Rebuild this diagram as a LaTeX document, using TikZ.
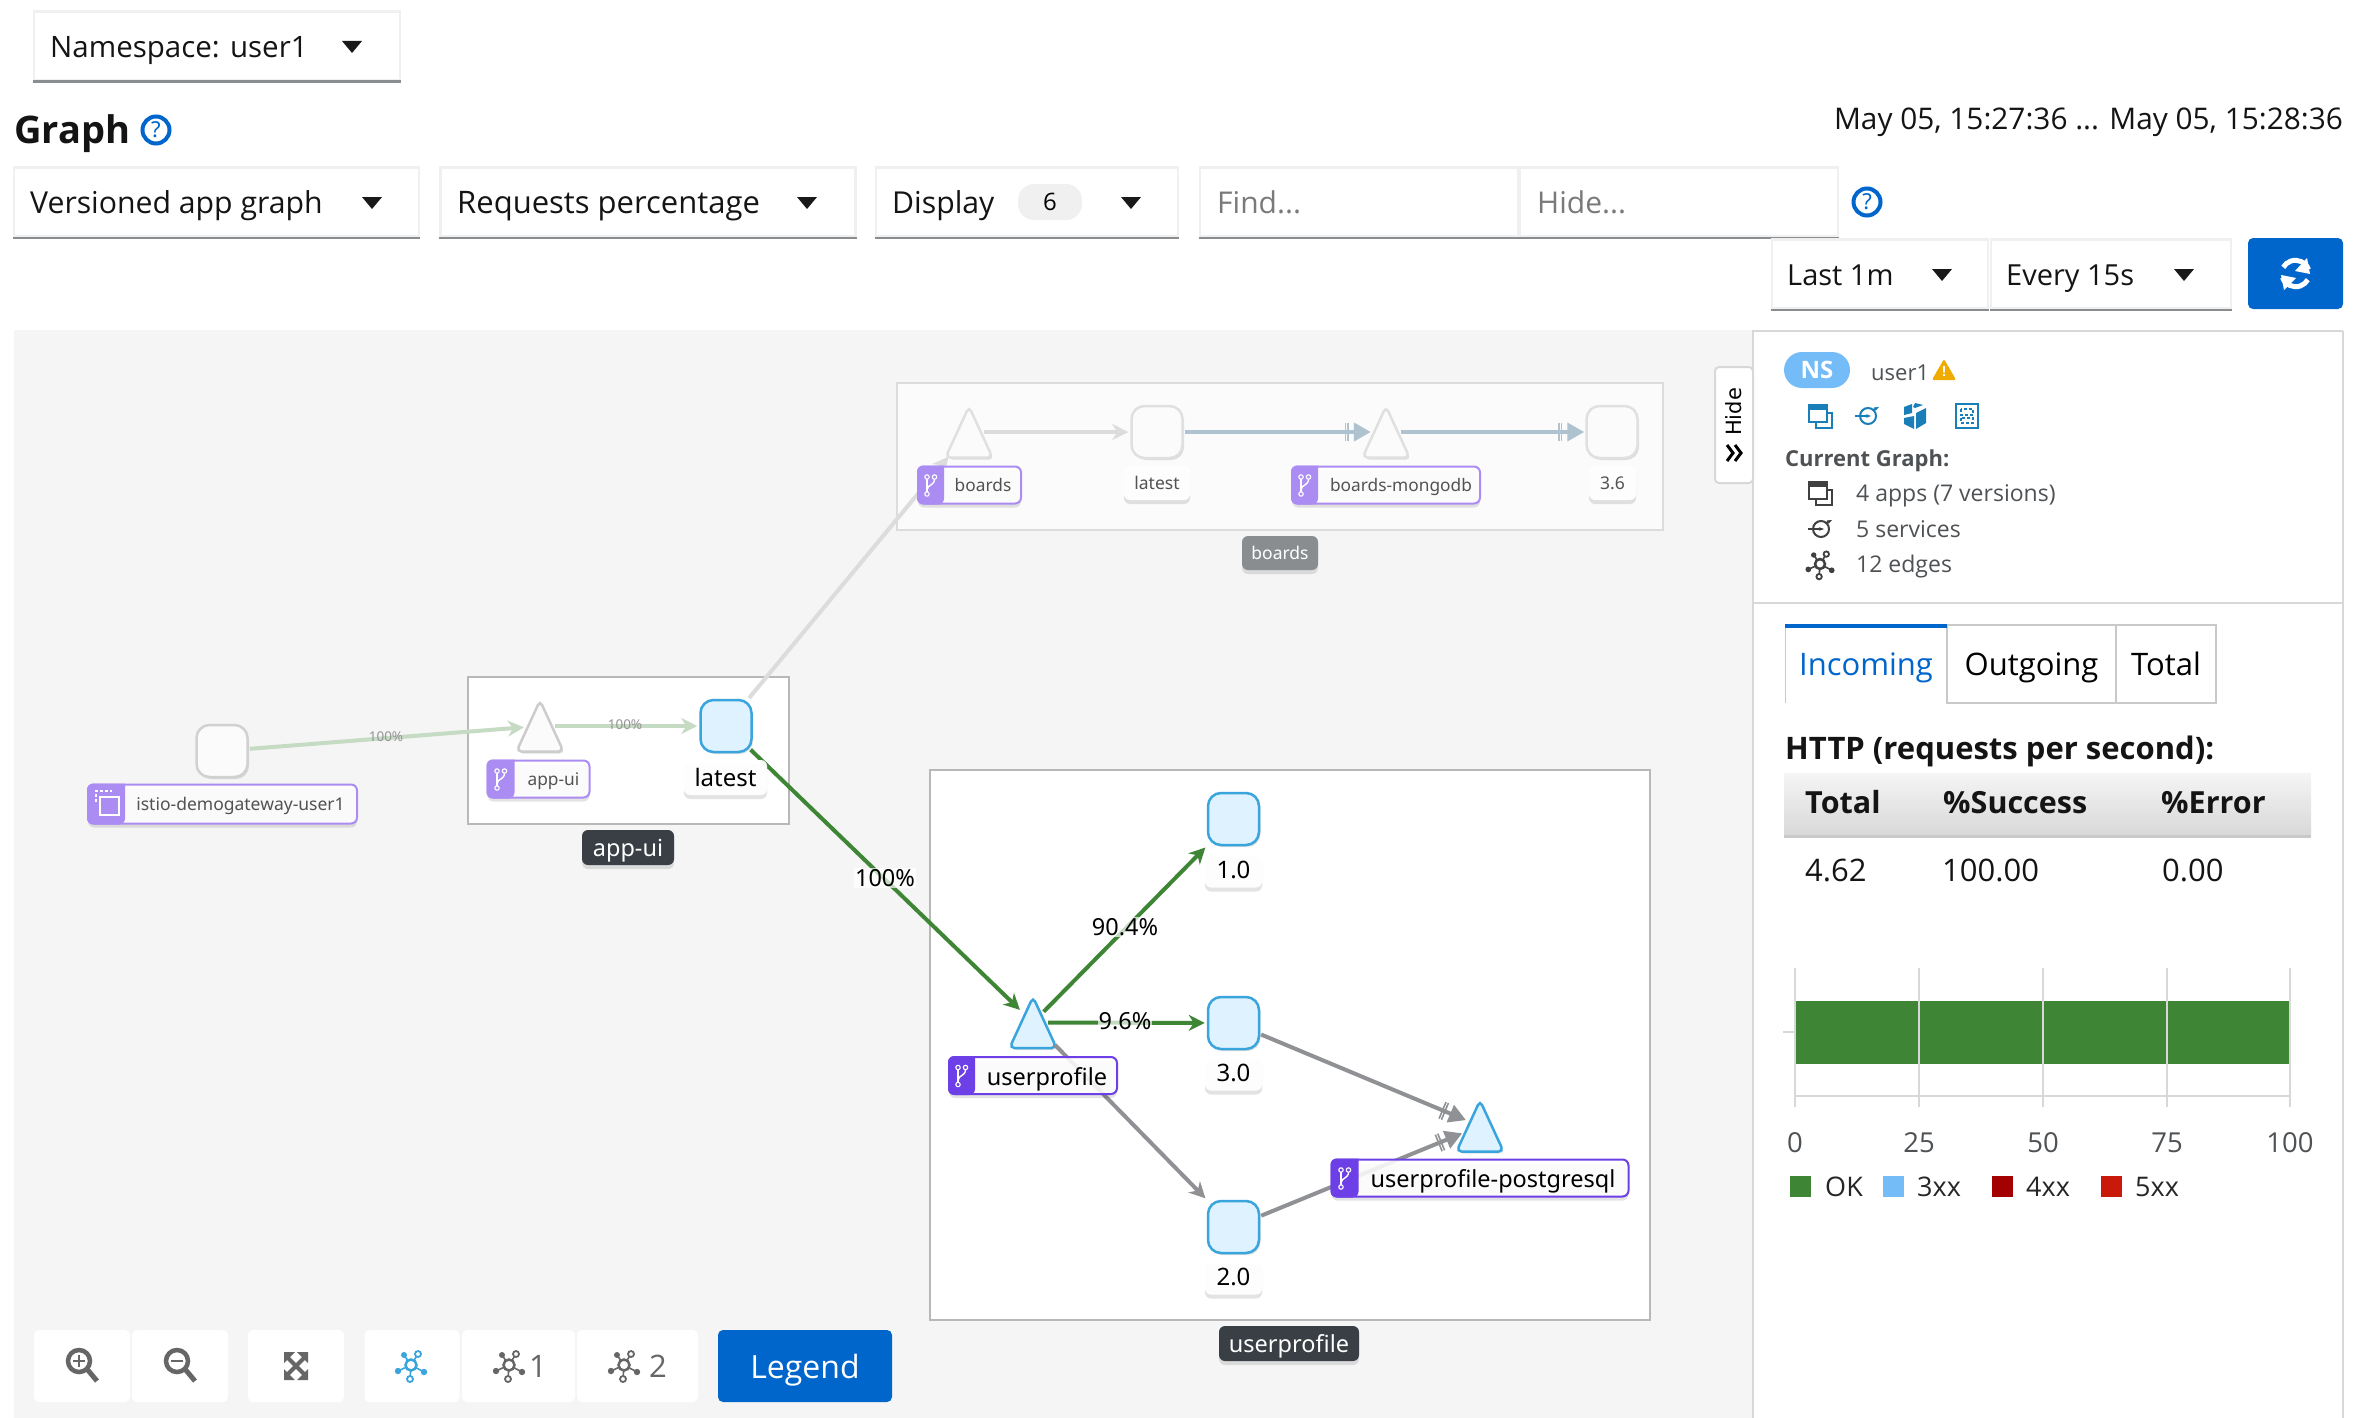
\documentclass[tikz,border=0pt]{standalone}
\usepackage{fontspec}
\setmainfont{Open Sans}
\newfontfamily\graphfont{Noto Sans}
\newfontfamily\hidefont{DejaVu Sans}
\usetikzlibrary{shapes.geometric, arrows.meta, shadows}

\definecolor{graphbg}{HTML}{F5F5F5}
\definecolor{boxline}{HTML}{F0F0F0}
\definecolor{boxunder}{HTML}{8A8D90}
\definecolor{pfblue}{HTML}{0066CC}
\definecolor{panelline}{HTML}{D8D8D8}
\definecolor{tabline}{HTML}{C9C9C9}
\definecolor{iconblue}{HTML}{1A7FB8}
\definecolor{graphblue}{HTML}{39A5DC}
\definecolor{nodeblue}{HTML}{DEF3FF}
\definecolor{fadefill}{HTML}{FBFBFB}
\definecolor{okgreen}{HTML}{3E8635}
\definecolor{fadegreen}{HTML}{C6DBC4}
\definecolor{tcpgray}{HTML}{8F9194}
\definecolor{fadegray}{HTML}{DCDCDC}
\definecolor{fadetcp}{HTML}{AEC3CF}
\definecolor{violetfaint}{HTML}{AB8CF2}
\definecolor{violetstrong}{HTML}{6D3FE6}
\definecolor{darkchip}{HTML}{393F44}
\definecolor{greychip}{HTML}{8A8D90}
\definecolor{textgrey}{HTML}{4F5255}
\definecolor{warnorange}{HTML}{F0AB00}
\definecolor{lightblue}{HTML}{73BCF7}
\definecolor{darkred}{HTML}{A30000}
\definecolor{brightred}{HTML}{C9190B}

\newcommand{\pxfont}[1]{\fontsize{#1}{#1}\selectfont}
\newcommand{\appbadge}[3]{
  \fill[#2] ([xshift=#3pt]#1.north west) [rounded corners=6pt] -- (#1.north west) -- (#1.south west) -- ([xshift=#3pt]#1.south west) [sharp corners] -- cycle;
  \pic at ([xshift=#3pt/2]#1.west) {branchicon=#2};
}

\tikzset{
  softshadow/.style={drop shadow={shadow xshift=0pt, shadow yshift=-4pt, opacity=.11, fill=black}},
  nodeshadow/.style={drop shadow={shadow xshift=1.5pt, shadow yshift=-2pt, opacity=.12, fill=black}},
  uitext/.style={inner sep=0pt, anchor=base west, text=black!92},
  paneltext/.style={uitext, text=textgrey, font=\pxfont{23}},
  selectbox/.style={draw=boxline, line width=2.5pt, fill=white, inner sep=0pt, minimum height=69pt,
    append after command={(\tikzlastnode.south west) edge[draw=boxunder, line width=2.5pt] (\tikzlastnode.south east)}},
  helpicon/.style={circle, draw=pfblue, line width=4pt, text=pfblue, inner sep=0pt, minimum size=27pt, font=\graphfont\bfseries\pxfont{22}},
  toolbtn/.style={fill=white, rounded corners=5pt, inner sep=0pt, minimum height=72pt},
  tabbox/.style={draw=tabline, line width=2.5pt, fill=white, inner sep=0pt, minimum height=78pt, text height=22pt, text depth=0pt, font=\pxfont{31}},
  chartlabel/.style={inner sep=0pt, text=textgrey, font=\pxfont{27.5}},
  legendsq/.style={inner sep=0pt, minimum width=21pt, minimum height=21pt},
  groupbox/.style={draw=#1, line width=2.5pt, fill=white, inner sep=0pt},
  groupchip/.style={fill=#1, rounded corners=6pt, text=white, inner sep=0pt, text height=17pt, text depth=0pt, font=\graphfont\pxfont{23.5}, softshadow},
  vernode/.style={rectangle, rounded corners=13pt, draw=graphblue, line width=2.5pt, fill=nodeblue, minimum width=51pt, minimum height=52pt, inner sep=0pt, nodeshadow},
  svcnode/.style 2 args={circle, minimum size=28pt, inner sep=0pt, append after command={\pgfextra{
    \draw[draw=#1, fill=#2, line width=2.5pt, rounded corners=5pt, nodeshadow] (\tikzlastnode.center) ++(0,-25.5) -- ++(23.5,51) -- ++(-47,0) -- cycle;}}},
  fadever/.style={vernode, draw=#1, fill=fadefill},
  fadesvc/.style={svcnode={#1}{fadefill}},
  verlabel/.style={fill=white, fill opacity=.95, text opacity=1, rounded corners=6pt, inner sep=0pt, minimum height=35pt, text height=17pt, text depth=0pt, text=black, font=\graphfont\pxfont{24}, softshadow},
  fadelabel/.style={verlabel, text height=12pt, text=black!68, font=\graphfont\pxfont{17.5}},
  applabel/.style={draw=violetstrong, line width=2pt, fill=white, fill opacity=.88, text opacity=1, rounded corners=6pt, inner sep=0pt, minimum height=37pt, text height=19pt, text depth=0pt, text=black, font=\graphfont\pxfont{23.5}, softshadow},
  fadeapplabel/.style={applabel, text height=12pt, draw=violetfaint, text=black!68, font=\graphfont\pxfont{17.3}},
  okedge/.style={draw=okgreen, line width=4pt, shorten <=1pt, shorten >=2pt, -{Stealth[length=16pt, width=16pt, inset=5pt]}},
  fadeedge/.style={okedge, draw=#1},
  tcpedge/.style={draw=#1, line width=4pt, shorten <=1pt, shorten >=1pt,
    -{Bar[width=18pt, line width=1.6pt, sep=1pt] Bar[width=18pt, line width=1.6pt, sep=5pt] Triangle[length=17pt, width=18pt]}},
  edgetext/.style={inner sep=1pt, fill=white, fill opacity=.7, text opacity=1, text=black, font=\graphfont\pxfont{23.5}},
  fadeedgetext/.style={inner sep=0pt, text=black!42, font=\graphfont\pxfont{13.5}},
  pics/appsicon/.style={code={
    \draw[#1, line width=2pt] (-11,-11) rectangle (7,6);
    \fill[#1] (-11,-11) rectangle (7,-6);
    \draw[#1, line width=2pt] (7,-3) -- (12,-3) -- (12,12) -- (-4,12) -- (-4,6);
  }},
  pics/svcicon/.style={code={
    \draw[#1, line width=2pt] (1,0) circle[radius=8pt];
    \draw[#1, line width=2pt, -{Stealth[length=5pt]}] (-12,0) -- (4,0);
    \draw[#1, line width=2pt, -{Stealth[length=5pt]}] (6,-6) -- (12,-9);
  }},
  pics/wlicon/.style={code={
    \fill[#1] (-11,-9) -- (-3,-12) -- (-3,-3) -- (-11,-1) -- cycle;
    \fill[#1] (0,-13) -- (8,-11) -- (0,-8) -- (-2,-9) -- cycle;
    \fill[#1] (1,-3) -- (11,-8) -- (11,7) -- (1,13) -- cycle;
    \fill[#1] (-11,2) -- (-1,0) -- (-1,13) -- (-11,8) -- cycle;
  }},
  pics/wsicon/.style={code={
    \draw[#1, line width=2pt] (-11,-12) rectangle (11,12);
    \draw[#1, line width=1.5pt, dash pattern=on 3pt off 2pt] (-6,-7) rectangle (6,-1);
    \draw[#1, line width=1.5pt, dash pattern=on 3pt off 2pt] (-6,2) rectangle (6,7);
  }},
  pics/graphicon/.style={code={
    \draw[#1, line width=1.6pt] (-7,-10) -- (0,0) -- (7,-11) (-13,6) -- (0,0) -- (13,7) (0,0) -- (-1,14);
    \fill[#1] (-7,-10) circle[radius=3pt] (-13,6) circle[radius=3.2pt] (13,7) circle[radius=3.2pt];
    \draw[#1, line width=1.8pt, fill=white] (7,-11) circle[radius=3pt] (-1,14) circle[radius=3pt];
    \draw[#1, line width=2.5pt, fill=white] (0,0) circle[radius=5.5pt];
  }},
  pics/branchicon/.style={code={
    \draw[white, line width=1.4pt] (-3.5,-6) -- (-3.5,7);
    \draw[white, line width=1.4pt] (4,-6) .. controls (4,1) and (-3,-1) .. (-3.5,5);
    \draw[white, line width=1.1pt, fill=#1] (-3.5,-8) circle[radius=2.2pt] (4,-8) circle[radius=2.2pt] (-3.5,9) circle[radius=2.2pt];
  }},
}

\begin{document}
\begin{tikzpicture}[x=1pt, y=-1pt]
\useasboundingbox (0,0) rectangle (2360,1418);
\fill[white] (0,0) rectangle (2360,1418);
\fill[graphbg] (14,330) rectangle (1753,1418);
\draw[panelline, line width=2.5pt] (2343,331) -- (1753,331) -- (1753,1418);
\draw[panelline, line width=2.5pt] (2343,331) -- (2343,1418);
\draw[panelline, line width=2.5pt] (1753,603) -- (2343,603);

% toolbar
\node[selectbox, minimum width=366pt] (nsbox) at (217,46) {};
\node[uitext, font=\pxfont{29.5}] (nstext) at (50,58) {Namespace: user1};
\node[uitext, font=\bfseries\pxfont{38}] (graphtitle) at (14,143) {Graph};
\node[helpicon] (graphhelp) at (156,130) {?};
\node[uitext, font=\pxfont{29.8}, anchor=base east] (timerange) at (2343,129) {May 05, 15:27:36 ... May 05, 15:28:36};
\node[selectbox, minimum width=405pt] (graphtype) at (216.5,202) {};
\node[selectbox, minimum width=415pt] (edgelabels) at (648,202) {};
\node[selectbox, minimum width=302pt] (display) at (1027,202) {};
\node[selectbox, minimum width=318pt] (findbox) at (1359,202) {};
\node[selectbox, minimum width=318pt] (hidebox) at (1679,202) {};
\node[uitext, font=\pxfont{30.2}] (graphtypetext) at (30,213) {Versioned app graph};
\node[uitext, font=\pxfont{31}] (edgelabelstext) at (457,213) {Requests percentage};
\node[uitext, font=\pxfont{30.2}] (displaytext) at (892,213) {Display};
\node[fill=boxline, rounded corners=16pt, minimum width=64pt, minimum height=36pt, inner sep=0pt, font=\pxfont{24}] (displaycount) at (1050,202) {6};
\node[uitext, font=\pxfont{30}, text=black!52] (findtext) at (1217,213) {Find...};
\node[uitext, font=\pxfont{30}, text=black!52] (hidetext) at (1537,213) {Hide...};
\node[helpicon] (findhelp) at (1867,202) {?};
\node[selectbox, minimum width=216pt] (lastbox) at (1880,274) {};
\node[selectbox, minimum width=240pt] (everybox) at (2111,274) {};
\node[uitext, font=\pxfont{29}] (lasttext) at (1787,285) {Last 1m};
\node[uitext, font=\pxfont{29}] (everytext) at (2006,285) {Every 15s};
\node[fill=pfblue, rounded corners=5pt, minimum width=95pt, minimum height=71pt, inner sep=0pt] (refreshbtn) at (2295.5,273.5) {};
\draw[white, line width=5pt] (refreshbtn.center) ++(13,-4) arc[start angle=20, end angle=150, radius=14pt];
\fill[white] (2307,258) -- (2310,274) -- (2295,271) -- cycle;
\draw[white, line width=5pt] (refreshbtn.center) ++(-13,4) arc[start angle=200, end angle=330, radius=14pt];
\fill[white] (2284,290) -- (2281,275) -- (2296,278) -- cycle;
\foreach \cx/\cy in {352/47, 372/203, 807/203, 1131/203, 1942/275, 2184/275}
  \fill[black!90] ({\cx-10},{\cy-6}) -- ({\cx+10},{\cy-6}) -- (\cx,{\cy+6}) -- cycle;

% groups
\node[groupbox=fadegray, fill=white!60!graphbg, minimum width=766pt, minimum height=147pt] (boardsgroup) at (1280,456.5) {};
\node[groupbox=black!28, minimum width=321pt, minimum height=147pt] (appuigroup) at (628.5,750.5) {};
\node[groupbox=black!28, minimum width=720pt, minimum height=550pt] (profilegroup) at (1290,1045) {};

% nodes
\node[fadever=black!18] (gateway) at (222,751) {};
\node[fadesvc=black!20] (appuisvc) at (540,726) {};
\node[vernode] (appuilatest) at (726,726) {};
\node[fadesvc=black!12] (boardssvc) at (969,432) {};
\node[fadever=black!12] (boardslatest) at (1157,432) {};
\node[fadesvc=black!12] (mongosvc) at (1386,432) {};
\node[fadever=black!12] (mongothree) at (1612,432) {};
\node[svcnode={graphblue}{nodeblue}] (profilesvc) at (1033,1022.5) {};
\node[vernode] (profileone) at (1233.5,819) {};
\node[vernode] (profilethree) at (1233.5,1023) {};
\node[vernode] (profiletwo) at (1233.5,1227) {};
\node[svcnode={graphblue}{nodeblue}] (postgressvc) at (1480,1126) {};

% edges
\draw[fadeedge=fadegreen] (gateway) -- (appuisvc);
\draw[fadeedge=fadegreen] (appuisvc) -- (appuilatest);
\draw[fadeedge=fadegray, shorten >=18pt] (appuilatest) -- (boardssvc);
\draw[fadeedge=fadegray] (boardssvc) -- (boardslatest);
\draw[tcpedge=fadetcp] (boardslatest) -- (mongosvc);
\draw[tcpedge=fadetcp] (mongosvc) -- (mongothree);
\draw[okedge, shorten <=-3pt, shorten >=4pt] (appuilatest) -- (profilesvc);
\draw[okedge] (profilesvc) -- (profileone);
\draw[okedge] (profilesvc) -- (profilethree);
\draw[fadeedge=tcpgray, shorten <=17pt] (profilesvc) -- (profiletwo);
\draw[tcpedge=tcpgray] (profilethree) -- (postgressvc);
\draw[tcpedge=tcpgray, shorten >=5pt] (profiletwo) -- (postgressvc);

% labels
\node[fadeedgetext] (gatewaypct) at (386,737) {100\%};
\node[fadeedgetext] (appuipct) at (625,725) {100\%};
\node[edgetext] (latestpct) at (885,878) {100\%};
\node[edgetext] (onepct) at (1125,927) {90.4\%};
\node[edgetext] (threepct) at (1125,1021) {9.6\%};
\node[fadeapplabel, minimum width=269pt, minimum height=39pt, font=\graphfont\pxfont{17.5}] (gatewaylabel) at (222.5,804) {\hspace*{36pt}istio-demogateway-user1};
\fill[violetfaint] ([xshift=38pt]gatewaylabel.north west) [rounded corners=6pt] -- (gatewaylabel.north west) -- (gatewaylabel.south west) -- ([xshift=38pt]gatewaylabel.south west) [sharp corners] -- cycle;
\draw[white, line width=2pt] (100,797) rectangle (119,815);
\draw[white, line width=1.5pt, dash pattern=on 3pt off 2pt] (96,802) -- (96,791) -- (112,791);
\node[fadeapplabel, minimum width=102pt] (appuilabel) at (538.5,779) {\hspace*{30pt}app-ui};
\appbadge{appuilabel}{violetfaint}{28}
\node[verlabel, minimum width=83pt] (latestlabel) at (725.5,777.5) {latest};
\node[groupchip=darkchip, minimum width=92pt, minimum height=35pt] (appuichip) at (628,847.5) {app-ui};
\node[fadeapplabel, minimum width=103pt] (boardslabel) at (969.5,485) {\hspace*{27pt}boards};
\appbadge{boardslabel}{violetfaint}{27}
\node[fadelabel, minimum width=66pt, minimum height=34pt] (latestfaint) at (1157,483) {latest};
\node[fadeapplabel, minimum width=188pt] (mongolabel) at (1386,485) {\hspace*{30pt}boards-mongodb};
\appbadge{mongolabel}{violetfaint}{27}
\node[fadelabel, minimum width=47pt, minimum height=34pt] (threesix) at (1612.5,483) {3.6};
\node[groupchip=greychip, minimum width=76pt, minimum height=34pt, text height=12pt, font=\graphfont\pxfont{17.5}] (boardschip) at (1280,553) {boards};
\node[applabel, minimum width=168pt] (profilelabel) at (1033,1075.5) {\hspace*{28pt}userprofile};
\appbadge{profilelabel}{violetstrong}{27}
\node[verlabel, minimum width=57pt] (onelabel) at (1233.5,870) {1.0};
\node[verlabel, minimum width=57pt] (threelabel) at (1233.5,1073) {3.0};
\node[verlabel, minimum width=57pt] (twolabel) at (1233.5,1277) {2.0};
\node[applabel, minimum width=297pt] (postgreslabel) at (1480,1178) {\hspace*{26pt}userprofile-postgresql};
\appbadge{postgreslabel}{violetstrong}{28}
\node[groupchip=darkchip, minimum width=140pt, minimum height=35pt] (profilechip) at (1289,1343.5) {userprofile};

% graph buttons
\node[toolbtn, minimum width=96pt] (zoominbtn) at (82,1366) {};
\node[toolbtn, minimum width=96pt] (zoomoutbtn) at (180,1366) {};
\node[toolbtn, minimum width=96pt] (fitbtn) at (296,1366) {};
\node[toolbtn, minimum width=95pt] (layoutdefault) at (412,1366) {};
\node[toolbtn, minimum width=113pt] (layoutone) at (518.5,1366) {};
\node[toolbtn, minimum width=121pt] (layouttwo) at (637.5,1366) {};
\node[toolbtn, fill=pfblue, minimum width=174pt, text=white, text height=24pt, text depth=0pt, font=\pxfont{32}] (legendbtn) at (805,1366) {Legend};
\foreach \cx in {80, 178} {
  \draw[black!60, line width=4.5pt] ({\cx-1},1361) circle[radius=11pt];
  \draw[black!60, line width=5pt] ({\cx+7},1369) -- ({\cx+17},1381);
  \draw[black!60, line width=2.5pt] ({\cx-7},1361) -- ({\cx+5},1361);
}
\draw[black!60, line width=2.5pt] (79,1355) -- (79,1367);
\draw[black!60, line width=4pt] (286,1356) -- (306,1376) (306,1356) -- (286,1376);
\foreach \cx/\cy/\sx/\sy in {284/1352/1/1, 308/1352/-1/1, 284/1380/1/-1, 308/1380/-1/-1}
  \fill[black!60] (\cx,\cy) -- ({\cx+11*\sx},\cy) -- (\cx,{\cy+11*\sy}) -- cycle;
\pic at (411,1365) {graphicon=graphblue};
\pic at (509,1365) {graphicon=black!60};
\pic at (624,1365) {graphicon=black!60};
\node[uitext, anchor=center, text=black!60, font=\pxfont{31}] (layoutonetext) at (538,1366) {1};
\node[uitext, anchor=center, text=black!60, font=\pxfont{31}] (layouttwotext) at (658,1366) {2};

% hide tab
\node[draw=panelline, line width=2pt, fill=white, rounded corners=4pt, minimum width=38pt, minimum height=116pt, inner sep=0pt] (hidetab) at (1734,425) {};
\node[rotate=90, inner sep=0pt, text=black, font=\hidefont\pxfont{21}] (hidelabel) at (1734,412) {Hide};
\draw[black, line width=3pt] (1727,445) -- (1733,453) -- (1727,461) (1735,445) -- (1741,453) -- (1735,461);

% summary panel
\node[fill=lightblue, rounded corners=18pt, minimum width=66pt, minimum height=36pt, inner sep=0pt, text=white, font=\bfseries\pxfont{24}] (nsbadge) at (1817,370) {NS};
\node[paneltext, font=\pxfont{22}] (nsname) at (1871,380) {user1};
\node[isosceles triangle, isosceles triangle apex angle=60, shape border rotate=90, fill=warnorange, rounded corners=2pt, minimum height=21pt, inner sep=0pt, text=white] (nswarn) at (1944,373) {};
\node[inner sep=0pt, text=white, font=\bfseries\pxfont{14}] (nswarnmark) at (1944,372) {!};
\pic at (1820,416) {appsicon=iconblue};
\pic at (1867,416) {svcicon=iconblue};
\pic at (1915,416) {wlicon=iconblue};
\pic at (1967,416) {wsicon=iconblue};
\node[paneltext, font=\bfseries\pxfont{22}] (currentgraph) at (1785,466) {Current Graph:};
\pic at (1820,493) {appsicon=black!75};
\pic at (1820,529) {svcicon=black!75};
\pic[scale=.9] at (1820,564) {graphicon=black!75};
\node[paneltext] (appscount) at (1856,501) {4 apps (7 versions)};
\node[paneltext] (svccount) at (1856,537) {5 services};
\node[paneltext] (edgecount) at (1856,572) {12 edges};

% tabs
\node[tabbox, minimum width=162pt, draw=none, text=pfblue] (incomingtab) at (1866,664) {Incoming};
\node[tabbox, minimum width=169pt] (outgoingtab) at (2031.5,664) {Outgoing};
\node[tabbox, minimum width=100pt] (totaltab) at (2166,664) {Total};
\draw[tabline, line width=1pt] (1785,628) -- (1785,703);
\fill[pfblue] (1785,624) rectangle (1947,628);
\node[uitext, font=\bfseries\pxfont{31}] (httptitle) at (1785,759) {HTTP (requests per second):};

% table
\shade[top color=graphbg, bottom color=boxline!90!black] (1784,773) rectangle (2311,835);
\fill[tabline] (1784,835) rectangle (2311,838);
\node[uitext, font=\bfseries\pxfont{30.5}] (totalhead) at (1805,813) {Total};
\node[uitext, font=\bfseries\pxfont{30.5}] (successhead) at (1943,813) {\%Success};
\node[uitext, font=\bfseries\pxfont{30.5}] (errorhead) at (2161,813) {\%Error};
\node[uitext, font=\pxfont{31}] (totalval) at (1805,881) {4.62};
\node[uitext, font=\pxfont{31}] (successval) at (1942,881) {100.00};
\node[uitext, font=\pxfont{31}] (errorval) at (2162,881) {0.00};

% chart
\fill[okgreen] (1796,1001) rectangle (2290,1064);
\foreach \cx in {1795, 1919, 2043, 2167, 2290}
  \draw[panelline, line width=1.8pt] (\cx,968) -- (\cx,1107);
\draw[panelline, line width=2pt] (1795,1096) -- (2290,1096);
\draw[panelline, line width=1.8pt] (1783,1032) -- (1795,1032);
\foreach \cx/\val in {1795/0, 1919/25, 2043/50, 2167/75, 2290/100}
  \node[chartlabel] (tick\val) at (\cx,1143) {\val};
\node[legendsq, fill=okgreen] (okbox) at (1800.5,1186.5) {};
\node[legendsq, fill=lightblue] (threebox) at (1893.5,1186.5) {};
\node[legendsq, fill=darkred] (fourbox) at (2002.5,1186.5) {};
\node[legendsq, fill=brightred] (fivebox) at (2111.5,1186.5) {};
\node[chartlabel, anchor=west, text=black!85, font=\pxfont{27}] (oktext) at (1825,1187) {OK};
\node[chartlabel, anchor=west, text=black!85, font=\pxfont{27}] (threetext) at (1917,1187) {3xx};
\node[chartlabel, anchor=west, text=black!85, font=\pxfont{27}] (fourtext) at (2026,1187) {4xx};
\node[chartlabel, anchor=west, text=black!85, font=\pxfont{27}] (fivetext) at (2135,1187) {5xx};
\end{tikzpicture}
\end{document}
